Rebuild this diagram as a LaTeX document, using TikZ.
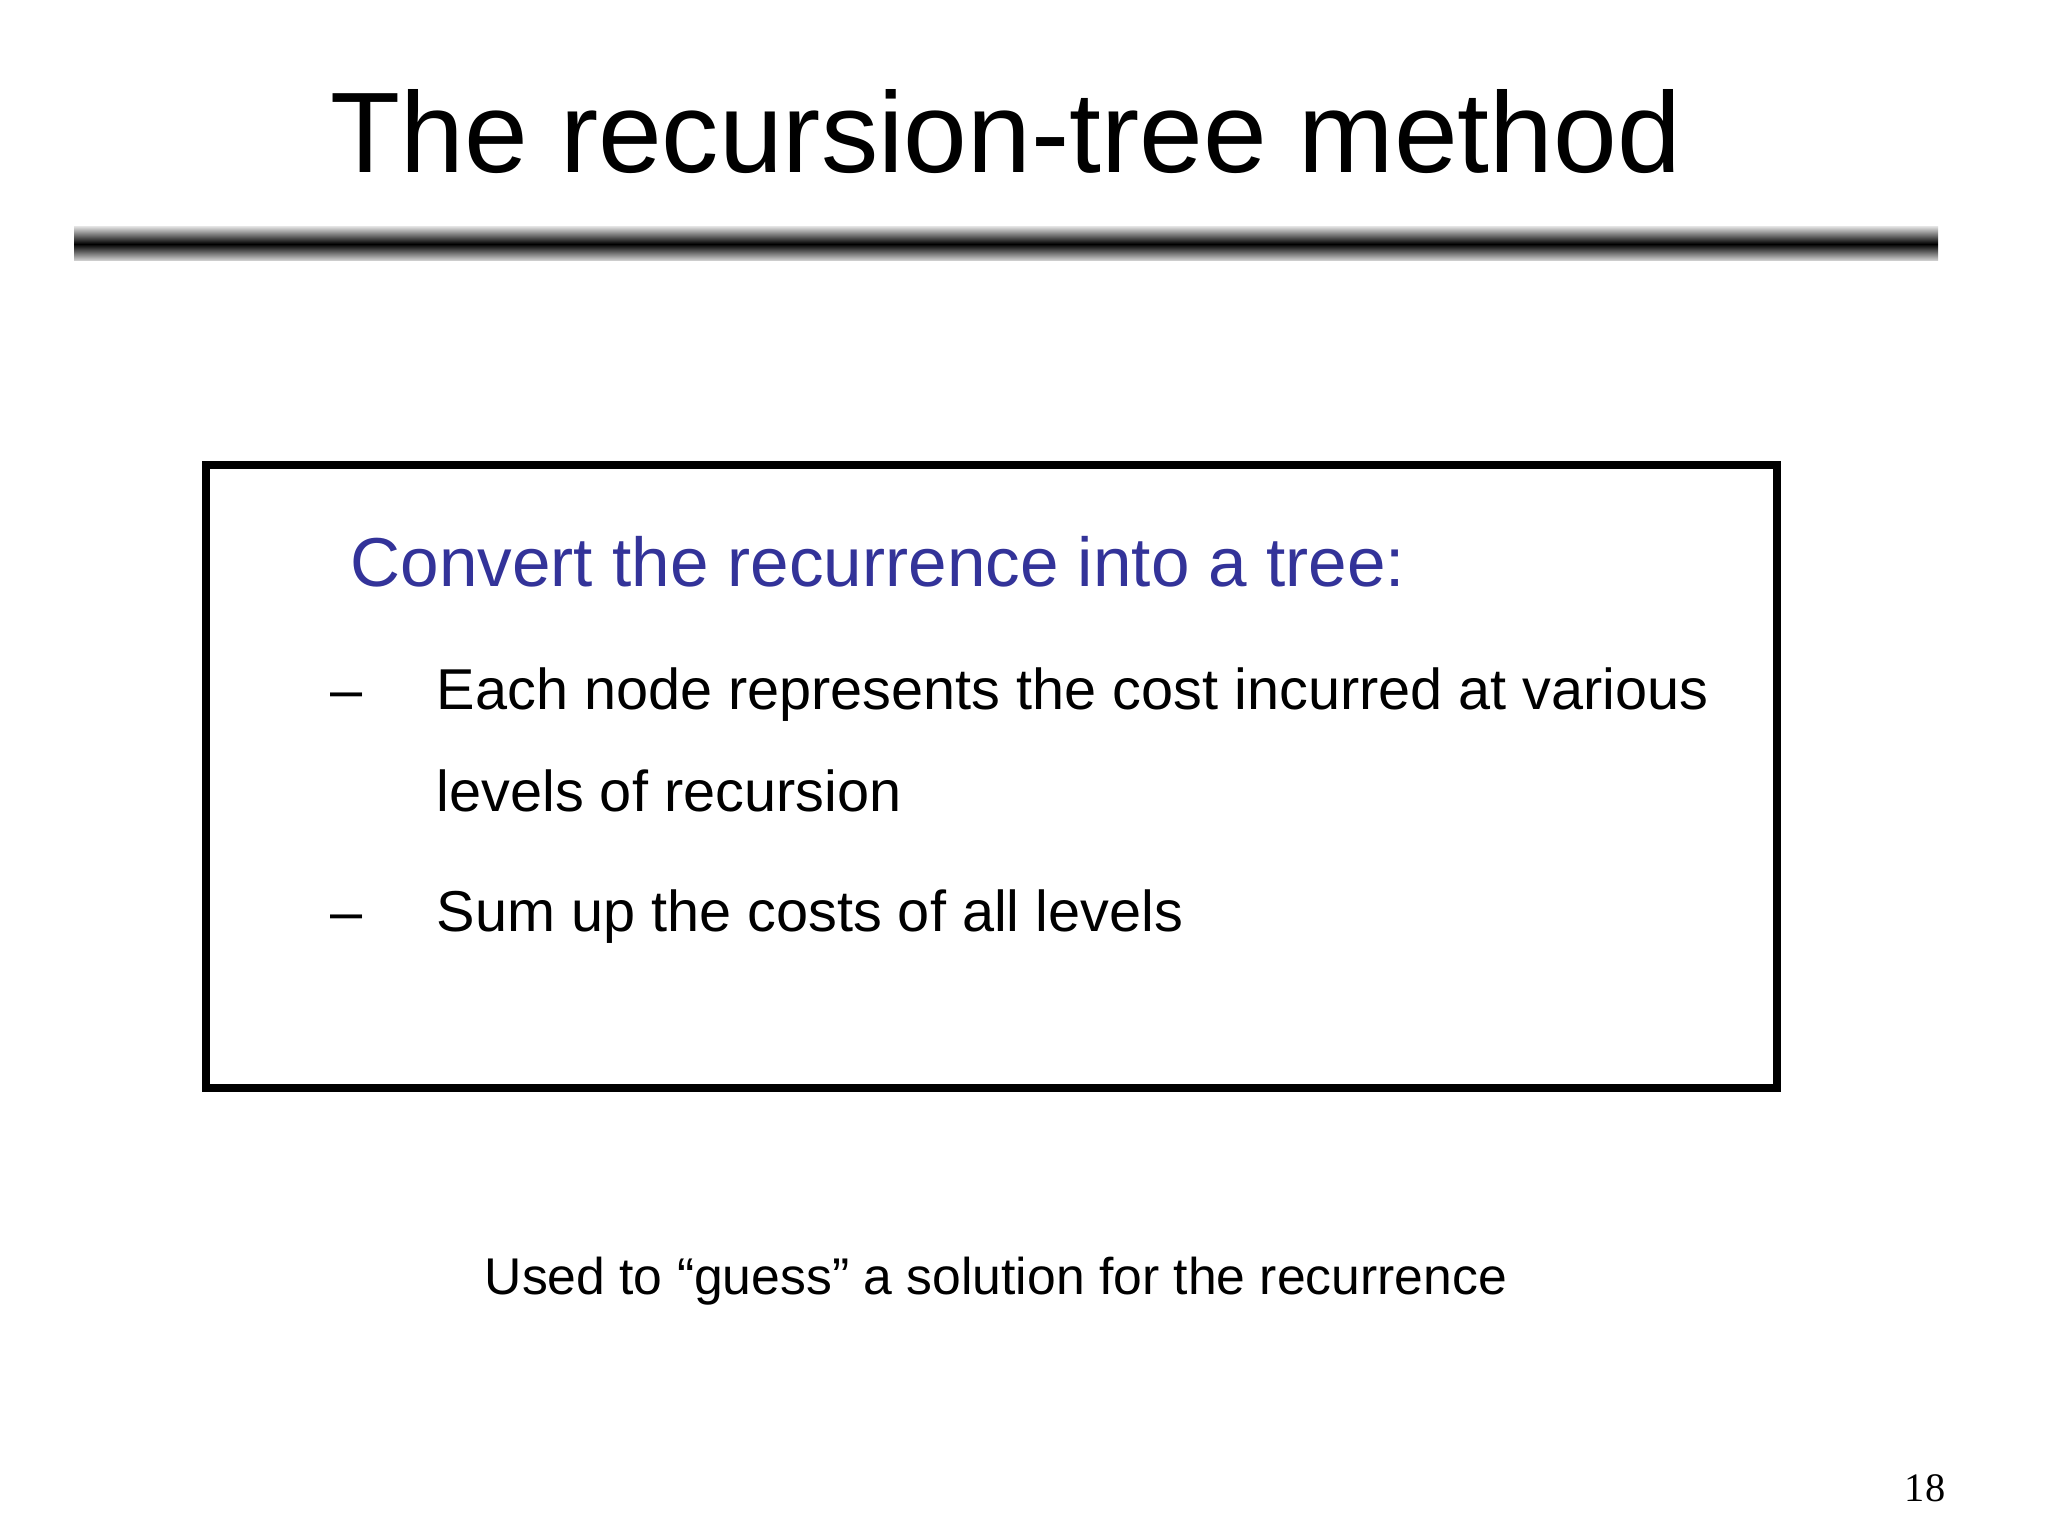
\documentclass[tikz,border=0pt]{standalone}
\usepackage{fontspec}
\setmainfont{Liberation Sans}
\newfontfamily\serifnum{Liberation Serif}
\definecolor{slideblue}{RGB}{51,51,153}

\begin{document}
\begin{tikzpicture}[
  txt/.style={anchor=base west,inner sep=0pt},
  bodytext/.style={txt,font=\fontsize{16.4}{20}\selectfont}]

\useasboundingbox (0,0) rectangle (20.48,-15.36);

\node (title) at (10.06,-1.32) {\fontsize{32.6}{38}\selectfont The recursion-tree method};

% shaded rule under the title
\shade[top color=gray!30,bottom color=gray!30,middle color=black] (0.74,-2.27) rectangle (19.38,-2.61);

\draw[line width=2pt] (2.06,-4.65) rectangle (17.77,-10.88);

\node[txt,font=\fontsize{19.7}{24}\selectfont,text=slideblue] (head) at (3.50,-5.87) {Convert the recurrence into a tree:};
\node[bodytext] (d1) at (3.30,-7.09) {--};
\node[bodytext] (b1) at (4.36,-7.09) {Each node represents the cost incurred at various};
\node[bodytext] (b1b) at (4.36,-8.12) {levels of recursion};
\node[bodytext] (d2) at (3.30,-9.31) {--};
\node[bodytext] (b2) at (4.36,-9.31) {Sum up the costs of all levels};

\node[txt,font=\fontsize{14.7}{18}\selectfont] (used) at (4.84,-12.94) {Used to “guess” a solution for the recurrence};

\node[font=\serifnum\fontsize{11.5}{14}\selectfont] (page) at (19.25,-14.88) {18};
\end{tikzpicture}
\end{document}
